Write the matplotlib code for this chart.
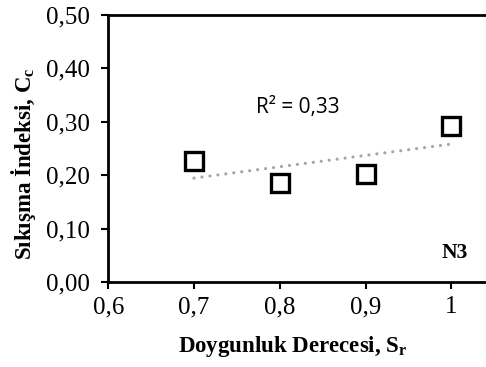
import numpy as np
import matplotlib
matplotlib.use("Agg")
import matplotlib.pyplot as plt

# Saturation degree vs. compression index for sample N3
sr = [0.7, 0.8, 0.9, 1.0]
cc = [0.227, 0.185, 0.202, 0.292]
x_ticks = [0.6, 0.7, 0.8, 0.9, 1.0]
x_tick_labels = ["0,6", "0,7", "0,8", "0,9", "1"]
y_ticks = [0.0, 0.1, 0.2, 0.3, 0.4, 0.5]
y_tick_labels = ["0,00", "0,10", "0,20", "0,30", "0,40", "0,50"]
r2_label = "R² = 0,33"
sample_label = "N3"

serif = ["Liberation Serif", "DejaVu Serif"]

fig = plt.figure(figsize=(4.86, 3.67), dpi=100)
ax = fig.add_axes([0.2228, 0.2308, 1.0 - 0.2228, 0.96 - 0.2308])

# linear trend line across the measured range
slope, intercept = np.polyfit(sr, cc, 1)
xf = np.array([min(sr), max(sr)])
ax.plot(xf, slope * xf + intercept, color="#a6a6a6", lw=2.3,
        linestyle=(0, (0.01, 2.5)), dash_capstyle="round", zorder=2)

ax.plot(sr, cc, linestyle="none", marker="s", markersize=13.5,
        markerfacecolor="white", markeredgecolor="black",
        markeredgewidth=2.4, zorder=3)

ax.set_xlim(0.6, 1.0405)
ax.set_ylim(0.0, 0.5)
ax.set_xticks(x_ticks)
ax.set_xticklabels(x_tick_labels, fontfamily=serif, fontsize=18)
ax.set_yticks(y_ticks)
ax.set_yticklabels(y_tick_labels, fontfamily=serif, fontsize=18)
ax.tick_params(axis="both", direction="out", length=5, width=1.5)
ax.tick_params(axis="x", pad=5)
ax.tick_params(axis="y", pad=8)

for side in ("left", "bottom", "top"):
    ax.spines[side].set_linewidth(2.0)
ax.spines["right"].set_visible(False)

ax.set_xlabel("Doygunluk Derecesi, S$_\\mathregular{r}$", fontfamily=serif,
              fontsize=16.5, fontweight="bold")
ax.set_ylabel("Sıkışma İndeksi, C$_\\mathregular{c}$", fontfamily=serif,
              fontsize=16.5, fontweight="bold")
ax.xaxis.set_label_coords(0.4877, -0.193)
ax.yaxis.set_label_coords(-0.186, 0.442)

ax.text(0.8212, 0.326, r2_label, fontfamily=["Open Sans", "DejaVu Sans"],
        fontsize=15, ha="center", va="center")
ax.text(1.0037, 0.055, sample_label, fontfamily=serif, fontsize=15.5,
        fontweight="bold", ha="center", va="center")

fig.savefig("out.png", dpi=100)
